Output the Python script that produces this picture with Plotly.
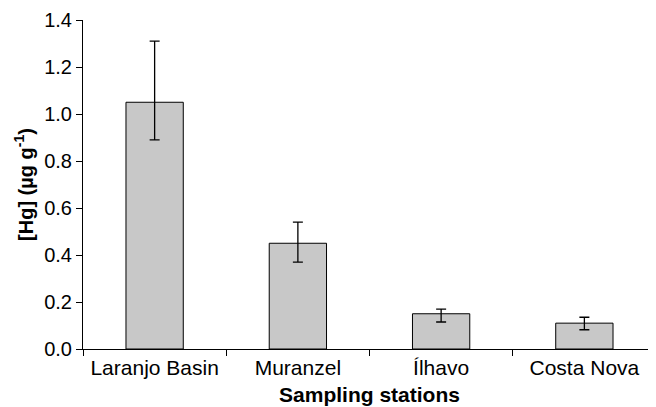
import plotly.graph_objects as go

stations = ["Laranjo Basin", "Muranzel", "Ílhavo", "Costa Nova"]
hg_mean = [1.05, 0.45, 0.15, 0.11]
err_plus = [0.26, 0.09, 0.02, 0.025]
err_minus = [0.16, 0.08, 0.035, 0.028]
y_ticks = [0.0, 0.2, 0.4, 0.6, 0.8, 1.0, 1.2, 1.4]

fig = go.Figure(
    go.Bar(
        x=stations,
        y=hg_mean,
        marker=dict(color="#c8c8c8", line=dict(color="black", width=1)),
        error_y=dict(
            type="data",
            symmetric=False,
            array=err_plus,
            arrayminus=err_minus,
            color="black",
            thickness=1.3,
            width=5,
        ),
    )
)

font_family = "Liberation Sans, Arial, sans-serif"

# The page body adds an 8px offset; size the figure so the plot area lands where the reference has it.
fig.update_layout(
    width=648,
    height=399,
    margin=dict(l=75, r=0, t=12, b=58),
    plot_bgcolor="white",
    paper_bgcolor="white",
    bargap=0.6,
    showlegend=False,
    font=dict(family=font_family, color="black"),
)

fig.update_xaxes(
    automargin=False,
    showline=True,
    linecolor="black",
    linewidth=1,
    ticks="outside",
    tickson="boundaries",
    ticklen=6,
    tickcolor="black",
    tickfont=dict(size=21),
    showgrid=False,
    title=dict(text="<b>Sampling stations</b>", font=dict(size=21), standoff=9),
)

fig.update_yaxes(
    automargin=False,
    range=[0, 1.4],
    tickvals=y_ticks,
    tickformat=".1f",
    showline=True,
    linecolor="black",
    linewidth=1,
    ticks="outside",
    ticklen=6,
    tickcolor="black",
    tickfont=dict(size=20),
    showgrid=False,
    zeroline=False,
    title=dict(text="<b>[Hg] (µg g<sup>-1</sup>)</b>", font=dict(size=20), standoff=5),
)

fig.write_html("out.html")
